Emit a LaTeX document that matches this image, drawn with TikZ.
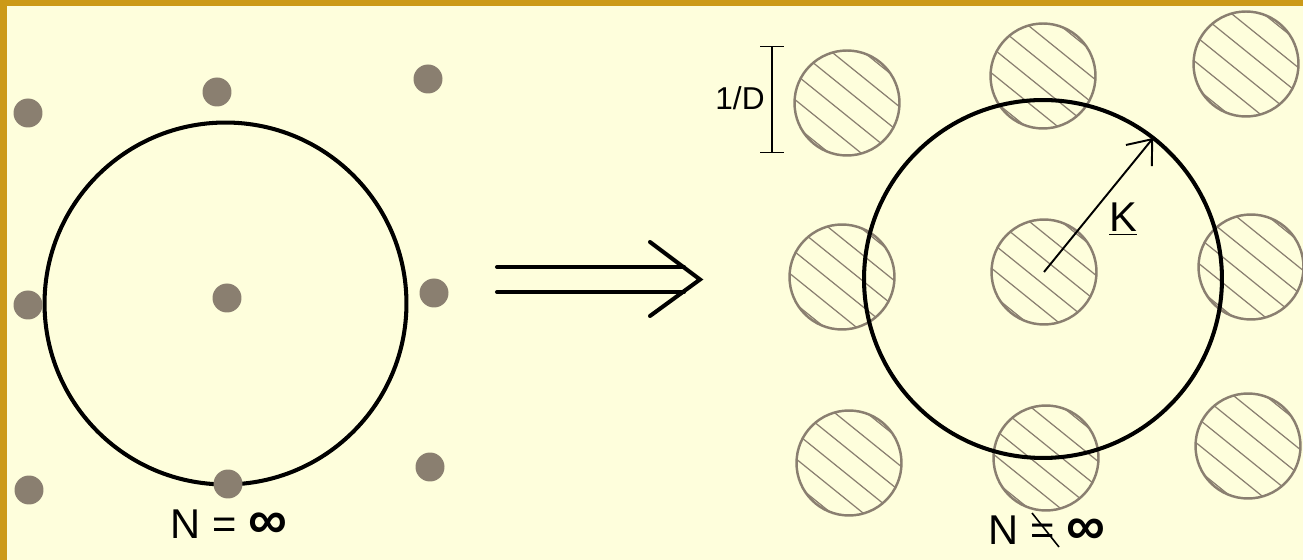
\documentclass[tikz,border=0pt]{standalone}
\usepackage{fontspec}
\setmainfont{Liberation Sans}
\usetikzlibrary{arrows.meta}
\definecolor{gold}{HTML}{CC9A18}
\definecolor{cream}{HTML}{FEFEDC}
\definecolor{stone}{HTML}{8A7F70}
\newcommand{\infsym}{{\bfseries\fontsize{31}{31}\selectfont ∞}}

\begin{document}
\begin{tikzpicture}[x=0.02cm,y=-0.02cm,every node/.style={inner sep=0pt,outer sep=0pt},grain/.style={circle,fill=stone,minimum size=0.58cm},disc/.style={circle,draw=stone,line width=1.4pt,minimum size=2.1cm},hatch/.style={stone,line width=0.7pt},ring/.style={circle,draw=black,line width=2.3pt},lbl/.style={font=\fontsize{23.7}{28}\selectfont,anchor=base}]
\useasboundingbox (0,0) rectangle (1303,560);
\fill[gold] (0,0) rectangle (1303,560);
\fill[cream] (7,6) rectangle (1303,560);
% left: point lattice
\node[ring,minimum size=7.24cm] (lring) at (225.5,303.5) {};
\node[grain] (g1) at (28,113) {};
\node[grain] (g2) at (217,92) {};
\node[grain] (g3) at (428,79) {};
\node[grain] (g4) at (28,305) {};
\node[grain] (g5) at (227,298) {};
\node[grain] (g6) at (434,293) {};
\node[grain] (g7) at (29,490) {};
\node[grain] (g8) at (228,484) {};
\node[grain] (g9) at (430,467) {};
\node[lbl] (nleft) at (229,539) {N = \infsym};
% implies
\draw[line width=2.3pt,line cap=round] (497,267) -- (684,267);
\draw[line width=2.3pt,line cap=round] (497,292) -- (684,292);
\draw[line width=2.3pt,line cap=round] (650,242) -- (700,279.5) -- (650,316);
% right: finite discs, hatched
\foreach \x/\y/\n in {847/103/d1,1043/76/d2,1246/64/d3,842/277/d4,1044/272/d5,1251/267/d6,849/463/d7,1046/458/d8,1248/446/d9}{
  \begin{scope}[shift={(\x,\y)}]
    \clip (0,0) circle [radius=1.05cm];
    \foreach \k in {-2.5,-1.5,...,2.5}
      \draw[hatch] ({-12.6*\k-0.78*60},{15.6*\k-0.63*60}) -- ({-12.6*\k+0.78*60},{15.6*\k+0.63*60});
  \end{scope}
  \node[disc] (\n) at (\x,\y) {};
}
\node[ring,minimum size=7.16cm] (rring) at (1043,279) {};
\draw[line width=1.1pt,-{Straight Barb[length=12pt,width=19pt]}] (d5.center) -- (rring.52);
\node[lbl] (klbl) at (1123,232) {\underline{K}};
\draw[line width=0.85pt,{Bar[width=13.6pt]}-{Bar[width=13.6pt]}] (772,46) -- (772,153);
\node[font=\fontsize{18}{22}\selectfont,anchor=base] (dlbl) at (740,110) {1/D};
\node[lbl] (nright) at (1047,545) {N = \infsym};
\draw[line width=0.9pt] (1032,513) -- (1059,547);
\end{tikzpicture}
\end{document}
